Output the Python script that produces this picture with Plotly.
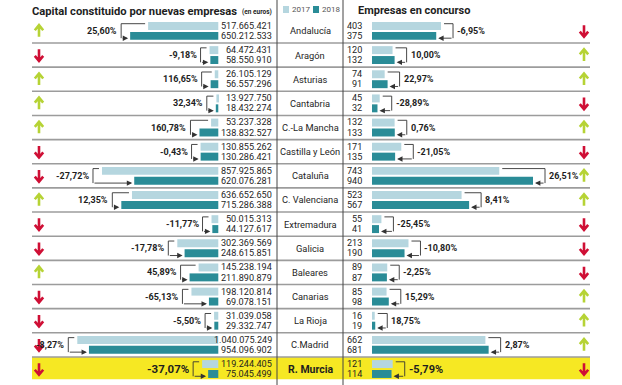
import plotly.graph_objects as go

W, H = 622, 385

regions = ["Andalucía", "Aragón", "Asturias", "Cantabria", "C.-La Mancha", "Castilla y León",
           "Cataluña", "C. Valenciana", "Extremadura", "Galicia", "Baleares", "Canarias",
           "La Rioja", "C.Madrid", "R. Murcia"]
cap2017 = [517665421, 64472431, 26105129, 13927750, 53237328, 130855262, 857925865,
           636652650, 50015313, 302369569, 145238194, 198120814, 31039058, 1040075249, 119244405]
cap2018 = [650212533, 58550910, 56557296, 18432274, 138832527, 130286421, 620076281,
           715286388, 44127617, 248615851, 211890879, 69078151, 29332747, 954096902, 75045499]
cap_pct = ["25,60%", "-9,18%", "116,65%", "32,34%", "160,78%", "-0,43%", "-27,72%", "12,35%",
           "-11,77%", "-17,78%", "45,89%", "-65,13%", "-5,50%", "-8,27%", "-37,07%"]
conc2017 = [403, 120, 74, 45, 132, 171, 743, 523, 55, 213, 89, 85, 16, 662, 121]
conc2018 = [375, 132, 91, 32, 133, 135, 940, 567, 41, 190, 87, 98, 19, 681, 114]
conc_pct = ["-6,95%", "10,00%", "22,97%", "-28,89%", "0,76%", "-21,05%", "26,51%", "8,41%",
            "-25,45%", "-10,80%", "-2,25%", "15,29%", "18,75%", "2,87%", "-5,79%"]
years = ["2017", "2018"]
highlight = "R. Murcia"

# ---- layout constants (pixels) ----
LEFT_BASE = 218.3
LEFT_SCALE = 141.0 / 1.04e9
RIGHT_BASE = 372.0
RIGHT_SCALE = 161.0 / 940
ROW0 = 30.93
ROW_H = 24.15

C17 = "#b5d6df"
C18 = "#2a8c97"
UP = "#b6d335"
DOWN = "#cf0f35"
LINE = "#9c9c9c"
TXT = "#1e1e1e"
FONT = "Roboto, Liberation Sans, Arial, sans-serif"

xl_range = [LEFT_BASE / LEFT_SCALE, (LEFT_BASE - W) / LEFT_SCALE]
xr_range = [-RIGHT_BASE / RIGHT_SCALE, (W - RIGHT_BASE) / RIGHT_SCALE]
y_range = [(H - ROW0) / ROW_H, -ROW0 / ROW_H]

idx = list(range(len(regions)))
BW = 0.33

fig = go.Figure()
fig.add_trace(go.Bar(y=idx, x=cap2017, orientation="h", base=0, width=BW, offset=-0.37,
                     marker=dict(color=C17, line=dict(width=0)), xaxis="x", yaxis="y",
                     name=years[0], hoverinfo="skip"))
fig.add_trace(go.Bar(y=idx, x=cap2018, orientation="h", base=0, width=BW, offset=0.04,
                     marker=dict(color=C18, line=dict(width=0)), xaxis="x", yaxis="y",
                     name=years[1], hoverinfo="skip"))
fig.add_trace(go.Bar(y=idx, x=conc2017, orientation="h", base=0, width=BW, offset=-0.37,
                     marker=dict(color=C17, line=dict(width=0)), xaxis="x2", yaxis="y",
                     showlegend=False, hoverinfo="skip"))
fig.add_trace(go.Bar(y=idx, x=conc2018, orientation="h", base=0, width=BW, offset=0.04,
                     marker=dict(color=C18, line=dict(width=0)), xaxis="x2", yaxis="y",
                     showlegend=False, hoverinfo="skip"))

shapes = []
ann = []


def fmt(v):
    return f"{v:,}".replace(",", ".")


def P(x):
    return x / W


def PY(y):
    return 1 - y / H


def arrow_path(xc, i, up):
    # chunky arrow, xc in pixels, i row index
    dx = 4.2 / W
    x = P(xc)
    if up:
        tip, tail, hb = i - 0.24, i + 0.24, i - 0.03
    else:
        tip, tail, hb = i + 0.24, i - 0.24, i + 0.03
    return (f"M {x},{tail} L {x},{tip} M {x - dx},{hb} L {x},{tip} L {x + dx},{hb}")


# highlight row background
for i, r in enumerate(regions):
    if r == highlight:
        shapes.append(dict(type="rect", xref="paper", yref="y", x0=P(32), x1=P(590),
                           y0=i - 0.5, y1=i + 0.42, fillcolor="#f6e823", line=dict(width=0),
                           layer="below"))

# row separators
for i in range(len(regions) - 1):
    shapes.append(dict(type="line", xref="paper", yref="y", x0=P(32), x1=P(590),
                       y0=i + 0.5, y1=i + 0.5, line=dict(color=LINE, width=1.6), layer="below"))

# vertical dividers
shapes.append(dict(type="line", xref="paper", yref="paper", x0=P(277), x1=P(277),
                   y0=1, y1=0, line=dict(color="#444", width=1)))
shapes.append(dict(type="line", xref="paper", yref="paper", x0=P(343), x1=P(343),
                   y0=1, y1=0, line=dict(color="#444", width=1)))

BR = dict(color="#333", width=0.9)
NUM = dict(family=FONT, size=9.1, color=TXT)
for i, r in enumerate(regions):
    hl = r == highlight
    a, b = cap2017[i], cap2018[i]
    # left bracket
    L = max(a, b) + 9 / LEFT_SCALE
    shapes.append(dict(type="line", xref="x", yref="y", x0=L, x1=a + 3 / LEFT_SCALE,
                       y0=i - 0.3, y1=i - 0.3, line=BR))
    shapes.append(dict(type="line", xref="x", yref="y", x0=L, x1=L,
                       y0=i - 0.3, y1=i + 0.3, line=BR))
    ann.append(dict(xref="x", yref="y", axref="x", ayref="y", x=b + 2 / LEFT_SCALE, y=i + 0.3,
                    ax=L, ay=i + 0.3, text="", showarrow=True, arrowhead=2, arrowsize=1.2,
                    arrowwidth=0.9, arrowcolor="#333"))
    ann.append(dict(xref="x", yref="y", x=L, y=i, xshift=-2, xanchor="right", yanchor="middle",
                    text=f"<b>{cap_pct[i]}</b>", showarrow=False,
                    font=dict(family=FONT, size=11.5 if hl else 9, color=TXT)))
    # left numbers
    ann.append(dict(xref="paper", yref="y", x=P(274), y=i - 0.21, xanchor="right", yanchor="middle",
                    text=fmt(a), showarrow=False, font=NUM))
    ann.append(dict(xref="paper", yref="y", x=P(274), y=i + 0.21, xanchor="right", yanchor="middle",
                    text=fmt(b), showarrow=False, font=NUM))
    # region name
    ann.append(dict(xref="paper", yref="y", x=P(310), y=i, xanchor="center", yanchor="middle",
                    text=f"<b>{r}</b>" if hl else r, showarrow=False,
                    font=dict(family=FONT, size=10.5 if hl else 9.3, color=TXT)))
    # right numbers
    c, d = conc2017[i], conc2018[i]
    ann.append(dict(xref="paper", yref="y", x=P(364), y=i - 0.21, xanchor="right", yanchor="middle",
                    text=fmt(c), showarrow=False, font=NUM))
    ann.append(dict(xref="paper", yref="y", x=P(364), y=i + 0.21, xanchor="right", yanchor="middle",
                    text=fmt(d), showarrow=False, font=NUM))
    # right bracket
    R = max(c, d) + 12 / RIGHT_SCALE
    shapes.append(dict(type="line", xref="x2", yref="y", x0=c + 3 / RIGHT_SCALE, x1=R,
                       y0=i - 0.3, y1=i - 0.3, line=BR))
    shapes.append(dict(type="line", xref="x2", yref="y", x0=R, x1=R,
                       y0=i - 0.3, y1=i + 0.3, line=BR))
    ann.append(dict(xref="x2", yref="y", axref="x2", ayref="y", x=d + 2 / RIGHT_SCALE, y=i + 0.3,
                    ax=R, ay=i + 0.3, text="", showarrow=True, arrowhead=2, arrowsize=1.2,
                    arrowwidth=0.9, arrowcolor="#333"))
    ann.append(dict(xref="x2", yref="y", x=R, y=i, xshift=2, xanchor="left", yanchor="middle",
                    text=f"<b>{conc_pct[i]}</b>", showarrow=False,
                    font=dict(family=FONT, size=11 if hl else 9, color=TXT)))
    # up/down arrows
    upL = b >= a
    upR = d >= c
    shapes.append(dict(type="path", xref="paper", yref="y", path=arrow_path(39, i, upL),
                       line=dict(color=UP if upL else DOWN, width=2.6)))
    shapes.append(dict(type="path", xref="paper", yref="y", path=arrow_path(584, i, upR),
                       line=dict(color=UP if upR else DOWN, width=2.6)))

# titles
ann.append(dict(xref="paper", yref="paper", x=P(30), y=PY(11), xanchor="left", yanchor="middle",
                text="<b>Capital constituido por nuevas empresas</b>", showarrow=False,
                font=dict(family=FONT, size=11.2, color=TXT)))
ann.append(dict(xref="paper", yref="paper", x=P(240), y=PY(12), xanchor="left", yanchor="middle",
                text="<b>(en euros)</b>", showarrow=False, font=dict(family=FONT, size=6.5, color=TXT)))
ann.append(dict(xref="paper", yref="paper", x=P(356), y=PY(10), xanchor="left", yanchor="middle",
                text="<b>Empresas en concurso</b>", showarrow=False,
                font=dict(family=FONT, size=11, color=TXT)))
# legend
for j, (col, yr) in enumerate([(C17, years[0]), (C18, years[1])]):
    x0 = 283 + j * 30
    shapes.append(dict(type="rect", xref="paper", yref="paper", x0=P(x0), x1=P(x0 + 6),
                       y0=PY(13), y1=PY(6), fillcolor=col, line=dict(width=0)))
    ann.append(dict(xref="paper", yref="paper", x=P(x0 + 6.5), y=PY(9.5), xanchor="left",
                    yanchor="middle", text=yr, showarrow=False,
                    font=dict(family=FONT, size=8, color="#555")))

fig.update_layout(
    width=W, height=H, autosize=False,
    margin=dict(l=0, r=0, t=0, b=0),
    paper_bgcolor="white", plot_bgcolor="white",
    barmode="overlay", showlegend=False,
    xaxis=dict(range=xl_range, visible=False, fixedrange=True, domain=[0, 1]),
    xaxis2=dict(range=xr_range, visible=False, fixedrange=True, overlaying="x", domain=[0, 1]),
    yaxis=dict(range=y_range, visible=False, fixedrange=True, domain=[0, 1]),
    shapes=shapes, annotations=ann,
)

fig.write_html("out.html", config={"displayModeBar": False},
               post_script="document.body.style.margin='0';document.body.style.overflow='hidden';")
